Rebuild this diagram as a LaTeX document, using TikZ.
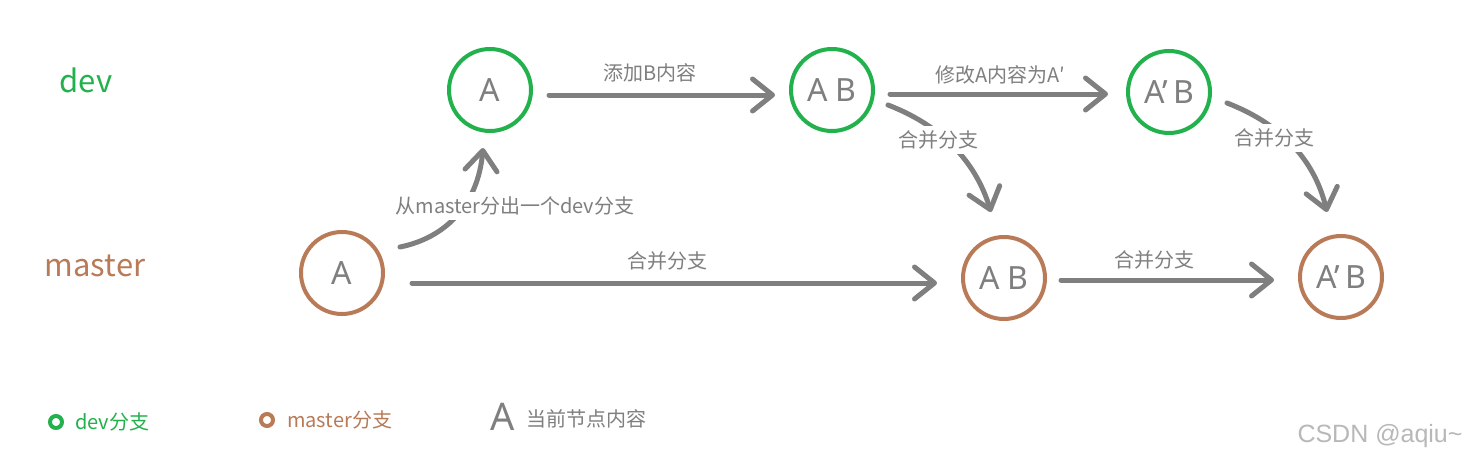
\documentclass[tikz,border=0pt]{standalone}
\usepackage{fontspec}
\setmainfont{Noto Sans CJK SC}
\newfontfamily\latinfont{Noto Sans}
\newfontfamily\wmfont{Liberation Sans}
\usetikzlibrary{arrows.meta,calc}
\definecolor{devgreen}{HTML}{22B14C}
\definecolor{mbrown}{HTML}{B97A57}
\definecolor{lgray}{HTML}{7F7F7F}
\begin{document}
\begin{tikzpicture}[x=1pt,y=-1pt,
  commit/.style={circle,draw,line width=4pt,minimum size=82pt,inner sep=0pt,text=lgray,font=\latinfont\fontsize{32}{32}\selectfont},
  devc/.style={commit,draw=devgreen},
  masc/.style={commit,draw=mbrown},
  arr/.style={draw=lgray,line width=5pt,line cap=round,-{Straight Barb[length=20pt,width=32pt,line cap=round,line join=round]}},
  lbl/.style={text=lgray,font=\fontsize{20}{20}\selectfont,inner sep=2pt},
  lblbg/.style={lbl,fill=white,inner sep=5pt},
  branch/.style={font=\fontsize{31}{31}\selectfont},
  ring/.style={circle,line width=4pt,minimum size=12pt,inner sep=0pt},
  legtext/.style={font=\fontsize{20}{20}\selectfont,anchor=west,inner sep=0pt}]
\useasboundingbox[fill=white] (0,0) rectangle (1474,463);

% branch names
\node[branch,text=devgreen] (devname) at (86,80) {dev};
\node[branch,text=mbrown] (masname) at (95,266) {master};

% commits
\node[devc] (dA) at (490,90) {A};
\node[devc] (dAB) at (832,90) {A B};
\node[devc] (dApB) at (1169,92) {A’\,B};
\node[masc] (mA) at (342,273) {A};
\node[masc] (mAB) at (1004,278) {A B};
\node[masc] (mApB) at (1341,277) {A’\,B};

% straight arrows
\draw[arr] ($(dA.center)+(59,5)$) -- ($(dAB.center)+(-57,5)$);
\node[lbl] (l1) at (650,73) {添加B内容};
\draw[arr] ($(dAB.center)+(58,4)$) -- ($(dApB.center)+(-61,2)$);
\node[lbl] (l2) at (1000,75) {修改A内容为A′};
\draw[arr] ($(mA.center)+(70,10)$) -- ($(mAB.center)+(-67,5)$);
\node[lbl] (l3) at (667,261) {合并分支};
\draw[arr] ($(mAB.center)+(57,2)$) -- ($(mApB.center)+(-67,3)$);
\node[lbl] (l4) at (1154,260) {合并分支};

% curved arrows
\draw[arr] ($(mA.center)+(58,-26)$) .. controls (445,238) and (478,205) .. ($(dA.south)+(-7,15)$);
\node[lblbg] (l5) at (515,206) {从master分出一个dev分支};
\draw[arr] ($(dAB.center)+(56,15)$) .. controls (940,125) and (975,160) .. ($(mAB.north)+(-13,-23)$);
\node[lblbg] (l6) at (938,140) {合并分支};
\draw[arr] ($(dApB.center)+(58,11)$) .. controls (1279,123) and (1314,158) .. ($(mApB.north)+(-14,-22)$);
\node[lblbg] (l7) at (1274,138) {合并分支};

% legend
\node[ring,draw=devgreen] (lgdev) at (56,422) {};
\node[legtext,text=devgreen] (lgdevt) at (75,422) {dev分支};
\node[ring,draw=mbrown] (lgmas) at (267,420) {};
\node[legtext,text=mbrown] (lgmast) at (287,420) {master分支};
\node[text=lgray,font=\latinfont\fontsize{38}{38}\selectfont,inner sep=0pt] (lgA) at (503,417) {A};
\node[legtext,text=lgray] (lgAt) at (526,419) {当前节点内容};

% watermark
\node[text=black!28,font=\wmfont\fontsize{25}{25}\selectfont] (wm) at (1380,436) {CSDN @aqiu\textasciitilde};
\end{tikzpicture}
\end{document}
